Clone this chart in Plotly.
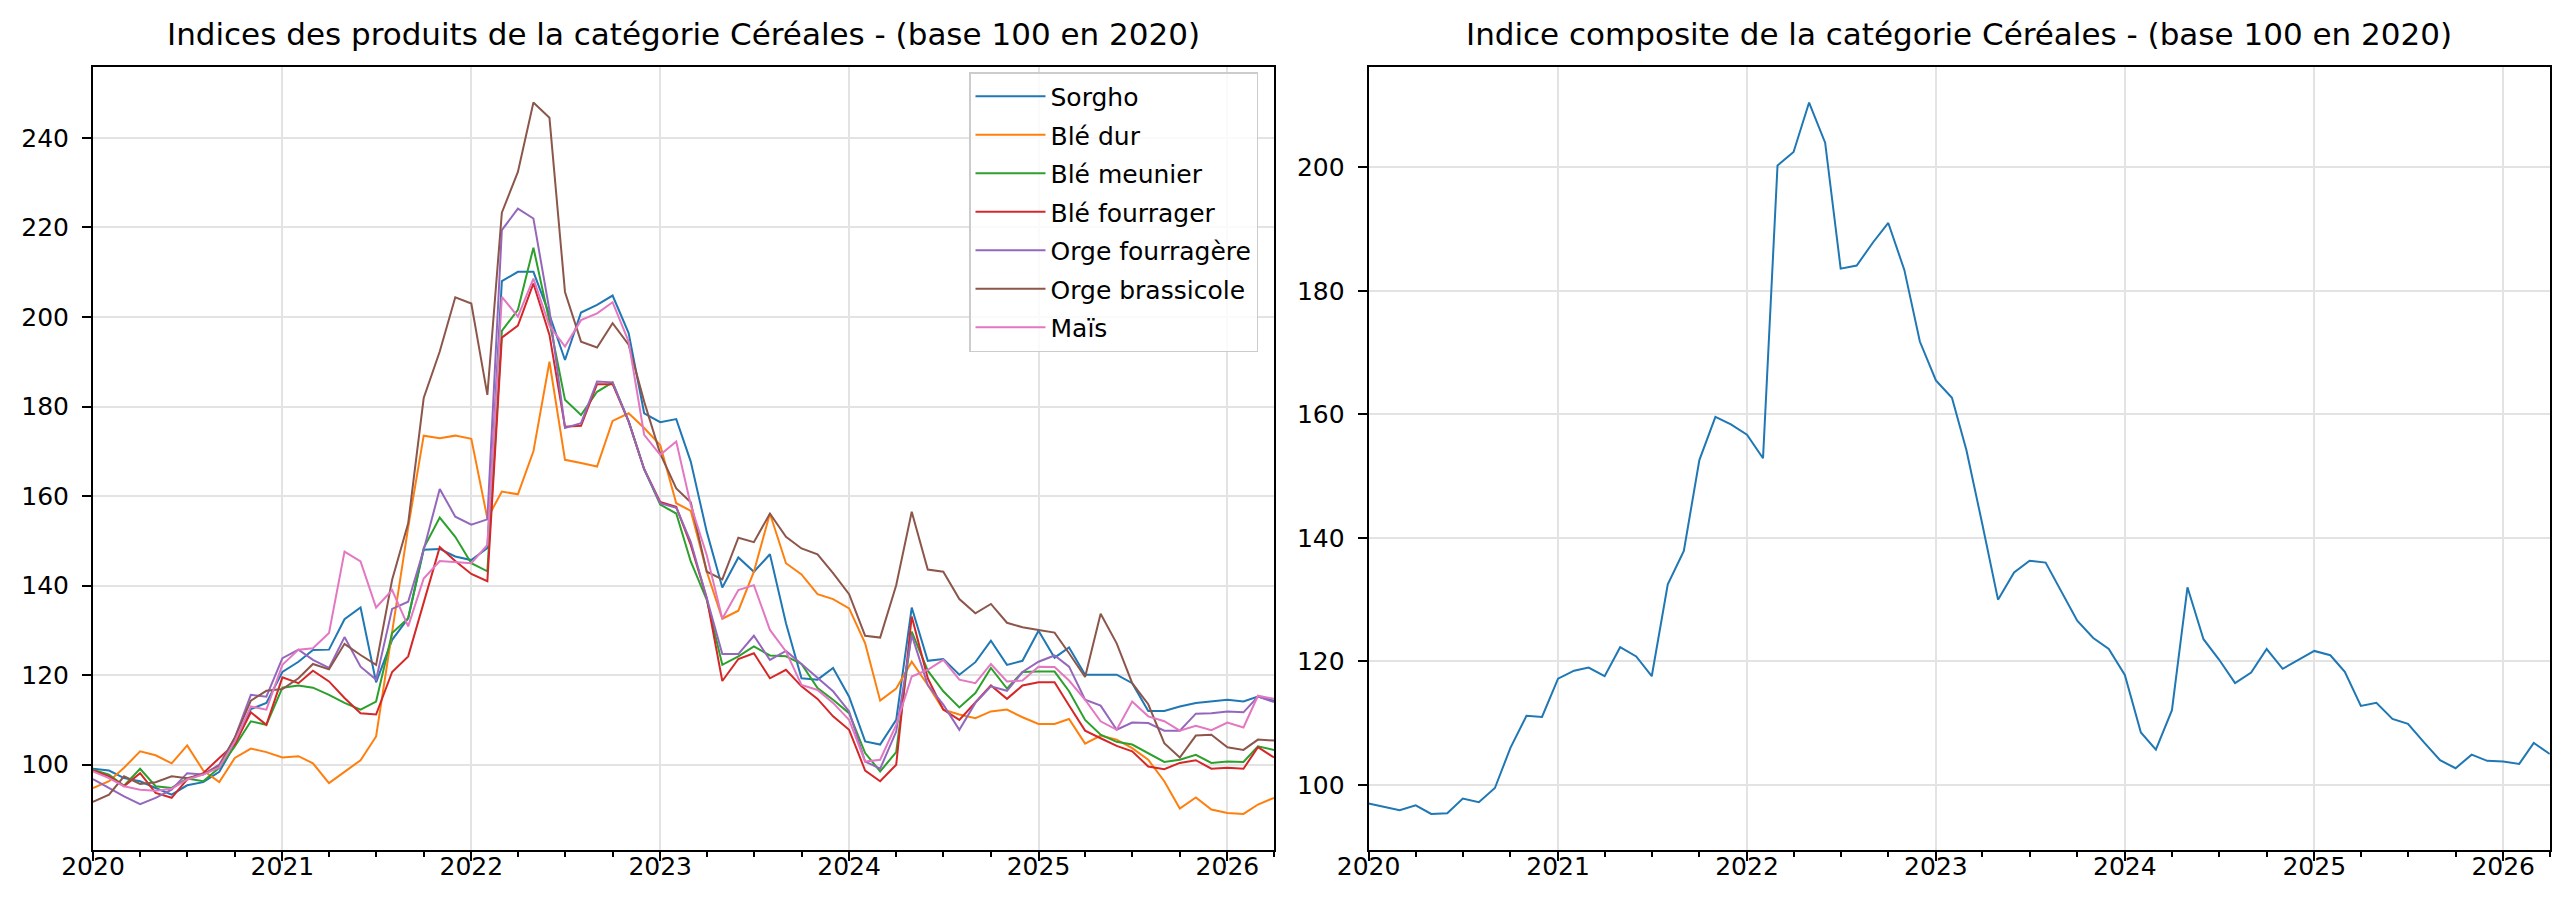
import pandas as pd
import plotly.graph_objects as go

months = pd.date_range("2020-01-01", periods=76, freq="MS")

series_names = ["Sorgho", "Blé dur", "Blé meunier", "Blé fourrager",
                "Orge fourragère", "Orge brassicole", "Maïs"]
series_colors = ["#1f77b4", "#ff7f0e", "#2ca02c", "#d62728",
                 "#9467bd", "#8c564b", "#e377c2"]

sorgho = [99.1, 98.7, 97.0, 96.3, 94.8, 93.3, 95.4, 96.1, 98.4, 104.5, 112.4, 113.8,
          120.7, 123.0, 125.6, 125.7, 132.5, 135.1, 118.4, 127.9, 132.7, 148.0, 148.2, 146.5,
          145.7, 148.4, 208.0, 210.1, 210.1, 200.5, 190.4, 201.0, 202.7, 204.8, 196.4, 178.5,
          176.5, 177.2, 167.7, 152.0, 139.6, 146.3, 143.1, 147.0, 131.6, 119.3, 119.0, 121.6,
          115.2, 105.2, 104.5, 110.0, 135.1, 123.2, 123.6, 120.1, 122.9, 127.7, 122.3, 123.2,
          129.9, 123.9, 126.2, 120.1, 120.1, 120.1, 118.2, 112.0, 112.0, 113.0, 113.8, 114.1,
          114.5, 114.1, 115.2, 114.3]
ble_dur = [94.8, 96.3, 99.3, 103.0, 102.1, 100.3, 104.3, 98.7, 96.1, 101.5, 103.6, 102.8,
           101.6, 101.9, 100.3, 95.9, 98.4, 101.0, 106.3, 130.0, 153.0, 173.5, 172.9, 173.5,
           172.8, 155.0, 161.0, 160.4, 170.0, 190.0, 168.1, 167.4, 166.6, 176.8, 178.5, 175.2,
           171.4, 158.4, 156.7, 143.1, 132.6, 134.4, 143.1, 156.1, 145.0, 142.5, 138.1, 137.0,
           134.9, 127.1, 114.3, 117.0, 123.0, 117.8, 112.3, 111.2, 110.4, 111.9, 112.3, 110.6,
           109.1, 109.1, 110.2, 104.7, 106.5, 105.6, 103.7, 101.1, 96.3, 90.2, 92.7, 90.0,
           89.2, 89.0, 91.1, 92.6]
ble_meunier = [98.9, 97.8, 95.3, 99.1, 95.2, 94.8, 96.9, 96.3, 99.3, 104.1, 109.7, 108.9,
               117.2, 117.7, 117.2, 115.6, 113.8, 112.3, 114.1, 129.4, 132.7, 148.4, 155.2, 150.9,
               145.0, 143.2, 196.9, 201.6, 215.5, 199.0, 181.5, 178.1, 183.3, 185.4, 176.7, 166.0,
               158.1, 156.1, 145.4, 136.8, 122.3, 124.2, 126.4, 124.4, 124.2, 122.5, 117.1, 114.5,
               111.5, 102.6, 98.5, 102.8, 129.7, 121.0, 116.4, 112.8, 116.0, 121.6, 117.0, 120.7,
               120.8, 120.8, 116.4, 110.0, 106.7, 105.1, 104.5, 102.6, 100.6, 101.1, 102.2, 100.4,
               100.7, 100.6, 104.1, 103.3]
ble_fourrager = [98.7, 97.4, 95.2, 98.1, 93.7, 92.6, 96.7, 98.1, 101.5, 104.6, 111.7, 108.9,
                 119.5, 118.2, 121.0, 118.6, 114.9, 111.5, 111.2, 120.7, 124.2, 136.4, 148.6, 145.5,
                 142.6, 141.0, 195.4, 198.1, 207.5, 196.0, 175.5, 175.7, 185.0, 185.0, 176.7, 166.0,
                 158.7, 157.6, 149.1, 137.2, 118.7, 123.6, 124.9, 119.3, 121.2, 117.5, 114.7, 110.8,
                 107.8, 98.7, 96.3, 100.0, 133.1, 119.3, 112.3, 110.0, 113.8, 117.7, 114.7, 117.7,
                 118.4, 118.4, 113.2, 107.6, 105.9, 104.2, 103.0, 99.6, 99.0, 100.4, 101.0, 99.1,
                 99.3, 99.1, 103.9, 101.6]
orge_fourragere = [96.8, 94.8, 92.9, 91.2, 92.6, 94.4, 98.1, 97.8, 100.0, 106.0, 115.6, 115.2,
                   123.8, 125.7, 123.4, 121.6, 128.5, 121.9, 119.0, 134.8, 136.4, 148.0, 161.6, 155.4,
                   153.6, 154.8, 219.4, 224.2, 222.0, 201.5, 175.2, 176.3, 185.6, 185.4, 176.7, 166.0,
                   158.4, 157.4, 149.8, 137.2, 124.7, 124.7, 128.8, 123.4, 125.4, 122.5, 119.3, 116.4,
                   111.9, 100.7, 99.1, 107.4, 129.0, 117.8, 113.4, 107.8, 113.8, 117.5, 116.5, 120.7,
                   123.0, 124.4, 121.9, 114.5, 113.2, 107.8, 109.4, 109.3, 107.6, 107.6, 111.4, 111.5,
                   111.9, 111.7, 115.2, 114.0]
orge_brassicole = [91.7, 93.3, 97.4, 95.7, 96.1, 97.4, 97.0, 97.9, 99.6, 106.0, 114.3, 116.5,
                   116.9, 119.3, 122.5, 121.3, 127.0, 124.5, 122.3, 141.3, 153.9, 181.9, 192.3, 204.4,
                   203.0, 182.6, 223.3, 232.4, 247.9, 244.5, 205.6, 194.5, 193.2, 198.6, 193.8, 181.1,
                   169.5, 161.7, 158.6, 143.1, 141.4, 150.7, 149.7, 156.1, 150.9, 148.3, 147.0, 142.8,
                   138.1, 128.8, 128.4, 140.1, 156.5, 143.6, 143.1, 137.0, 133.8, 135.9, 131.7, 130.7,
                   130.1, 129.5, 124.9, 119.6, 133.7, 127.1, 118.2, 113.5, 104.8, 101.6, 106.5, 106.7,
                   103.9, 103.3, 105.6, 105.4]
mais = [98.5, 97.0, 95.2, 94.4, 94.2, 94.6, 96.7, 97.8, 99.4, 105.2, 113.0, 112.3,
        122.3, 125.7, 126.0, 129.4, 147.6, 145.4, 135.1, 139.0, 130.9, 141.6, 145.5, 145.2,
        145.0, 149.1, 204.5, 200.1, 208.6, 198.0, 193.4, 199.3, 200.8, 203.3, 194.5, 173.7,
        169.2, 172.2, 158.0, 146.8, 132.6, 139.0, 140.1, 130.1, 125.3, 117.8, 116.7, 113.8,
        110.0, 100.7, 101.1, 108.9, 119.7, 121.2, 123.4, 119.0, 118.2, 122.5, 118.6, 118.8,
        121.9, 121.8, 118.8, 114.5, 109.7, 107.8, 114.1, 110.8, 109.7, 107.6, 108.7, 107.7,
        109.4, 108.3, 115.4, 114.7]

composite = [97.0, 96.4, 95.9, 96.7, 95.3, 95.4, 97.8, 97.2, 99.5, 106.0, 111.2, 111.0,
             117.2, 118.5, 119.0, 117.6, 122.3, 120.8, 117.6, 132.5, 137.9, 152.6, 159.6, 158.4,
             156.7, 152.9, 200.3, 202.5, 210.5, 204.0, 183.6, 184.1, 187.8, 191.0, 183.4, 171.8,
             165.5, 162.7, 154.2, 142.1, 130.0, 134.4, 136.3, 136.0, 131.3, 126.6, 123.8, 122.0,
             117.8, 108.5, 105.7, 112.1, 132.0, 123.6, 120.3, 116.5, 118.2, 122.0, 118.8, 120.2,
             121.7, 121.0, 118.3, 112.8, 113.3, 110.7, 109.9, 106.9, 104.0, 102.7, 104.9, 103.9,
             103.8, 103.4, 106.8, 105.0]

series_values = [sorgho, ble_dur, ble_meunier, ble_fourrager,
                 orge_fourragere, orge_brassicole, mais]

title_left = "Indices des produits de la catégorie Céréales - (base 100 en 2020)"
title_right = "Indice composite de la catégorie Céréales - (base 100 en 2020)"

FONT = "DejaVu Sans"
W, H = 2560, 903


def padded(vals_list):
    lo = min(min(v) for v in vals_list)
    hi = max(max(v) for v in vals_list)
    span = hi - lo
    return [lo - 0.05 * span, hi + 0.05 * span]


fig = go.Figure()
for i, (name, vals, col) in enumerate(zip(series_names, series_values, series_colors)):
    fig.add_trace(go.Scatter(x=months, y=vals, mode="lines", name=name,
                             legendgroup=f"g{i}",
                             line=dict(color=col, width=2), xaxis="x", yaxis="y"))

fig.add_trace(go.Scatter(x=months, y=composite, mode="lines", name="Composite",
                         showlegend=False, line=dict(color="#1f77b4", width=2),
                         xaxis="x2", yaxis="y2"))

ydom = [1 - 841.5 / H, 1 - 59 / H]
left_dom = [85 / W, 1266 / W]
right_dom = [1360.6 / W, 2541.8 / W]

xcommon = dict(
    type="date", range=[months[0], months[-1]], dtick="M12", tick0="2020-01-01",
    tickformat="%Y", ticks="outside", ticklen=9, tickwidth=2, tickcolor="black",
    showline=True, linecolor="black", linewidth=2, mirror=True, automargin=False,
    showgrid=True, gridcolor="#e3e3e3", gridwidth=1.5, zeroline=False,
    tickfont=dict(family=FONT, size=25, color="black"), ticklabelstandoff=-16,
    minor=dict(dtick="M3", ticks="outside", ticklen=5, tickwidth=1.5,
               tickcolor="black", showgrid=False),
)
ycommon = dict(
    ticks="outside", ticklen=9, tickwidth=2, tickcolor="black", dtick=20,
    showline=True, linecolor="black", linewidth=2, mirror=True, automargin=False,
    showgrid=True, gridcolor="#e3e3e3", gridwidth=1.5, zeroline=False,
    tickfont=dict(family=FONT, size=25, color="black"), ticklabelstandoff=8,
)

fig.update_layout(
    width=W, height=H,
    margin=dict(l=0, r=0, t=0, b=0, autoexpand=False),
    paper_bgcolor="white", plot_bgcolor="white",
    font=dict(family=FONT, color="black"),
    xaxis=dict(domain=left_dom, anchor="y", **xcommon),
    yaxis=dict(domain=ydom, anchor="x", range=padded(series_values), **ycommon),
    xaxis2=dict(domain=right_dom, anchor="y2", **xcommon),
    yaxis2=dict(domain=ydom, anchor="x2", range=padded([composite]), **ycommon),
    legend=dict(
        x=1250 / W, y=1 - 64 / H, xanchor="right", yanchor="top",
        bgcolor="rgba(255,255,255,0.8)", bordercolor="#cccccc", borderwidth=1.5,
        font=dict(family=FONT, size=25, color="black"),
        tracegroupgap=3, traceorder="grouped", itemwidth=70,
    ),
    showlegend=True,
    annotations=[
        dict(text=title_left, xref="paper", yref="paper",
             x=(left_dom[0] + left_dom[1]) / 2, y=1 - 46 / H,
             xanchor="center", yanchor="bottom", showarrow=False,
             font=dict(family=FONT, size=31, color="black")),
        dict(text=title_right, xref="paper", yref="paper",
             x=(right_dom[0] + right_dom[1]) / 2, y=1 - 46 / H,
             xanchor="center", yanchor="bottom", showarrow=False,
             font=dict(family=FONT, size=31, color="black")),
    ],
)

fig.write_html("out.html")
